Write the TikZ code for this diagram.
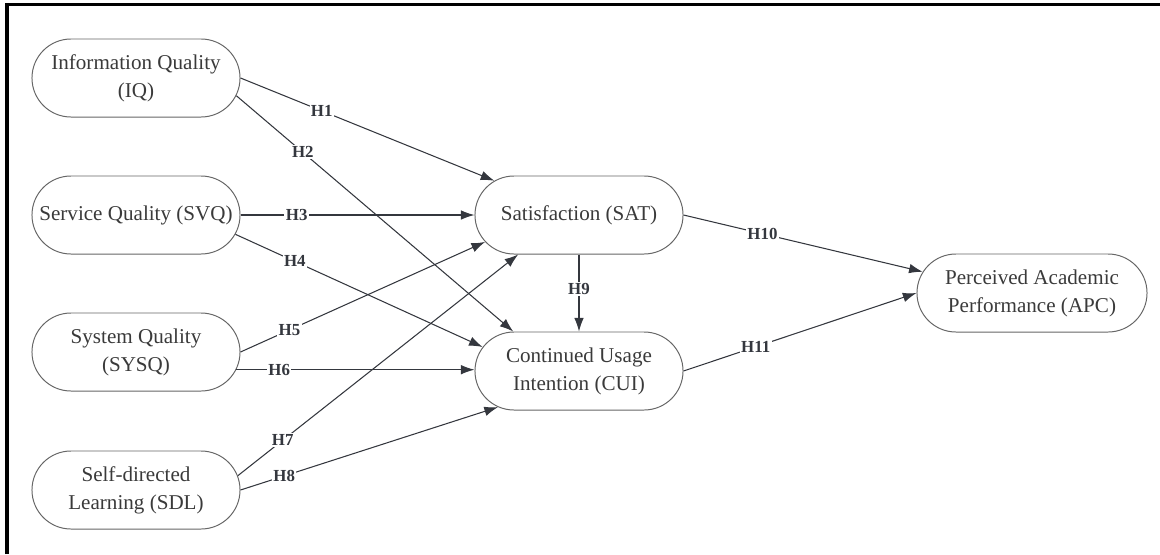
\documentclass[tikz,border=0pt]{standalone}
\usepackage{fontspec}
\setmainfont{Liberation Serif}
\usetikzlibrary{arrows.meta,shapes.misc,positioning}
\definecolor{boxline}{HTML}{666666}
\definecolor{edgeline}{HTML}{34373E}
\definecolor{txt}{HTML}{3A3A3A}

\tikzset{
  construct/.style={rounded rectangle, draw=boxline, line width=0.7pt, text=txt,
    minimum width=5.2cm, minimum height=1.95cm, inner sep=0pt, align=center,
    font=\fontsize{15}{20}\selectfont},
  hyp/.style={-{Latex[length=3.4mm,width=2.4mm]}, draw=edgeline, line width=0.75pt},
  hlabel/.style={fill=white, inner sep=1pt, text=edgeline,
    font=\fontsize{12}{14}\selectfont\bfseries}
}

\begin{document}
\begin{tikzpicture}[x=0.025cm,y=-0.025cm]
    \useasboundingbox (0,0) rectangle (1160,554);
    \draw[line width=2.2pt] (7,554) -- (7,4.5) -- (1160,4.5);

    % exogenous constructs
    \node[construct] (IQ) at (136,78) {Information Quality\\(IQ)};
    \node[construct] (SVQ) at (136,215) {Service Quality (SVQ)};
    \node[construct] (SYSQ) at (136,352) {System Quality\\(SYSQ)};
    \node[construct] (SDL) at (136,490) {Self-directed\\Learning (SDL)};

    % mediators and outcome
    \node[construct] (SAT) at (579,215) {Satisfaction (SAT)};
    \node[construct] (CUI) at (579,371) {Continued Usage\\Intention (CUI)};
    \node[construct, minimum width=5.75cm] (APC) at (1032,293) {Perceived Academic\\Performance (APC)};

    % hypotheses
    \draw[hyp] (IQ.east) -- node[hlabel,pos=0.32] {H1} (SAT);
    \draw[hyp] (IQ.-10) -- node[hlabel,pos=0.24] {H2} (CUI.149);
    \draw[hyp] (SVQ.east) -- node[hlabel,pos=0.24] {H3} (SAT.west);
    \draw[hyp] (SVQ.-11) -- node[hlabel,pos=0.24] {H4} (CUI.166);
    \draw[hyp] (SYSQ.east) -- node[hlabel,pos=0.2] {H5} (SAT.196);
    \draw[hyp] (SYSQ.-10) -- node[hlabel,pos=0.18] {H6} (SYSQ.-10 -| CUI.west);
    \draw[hyp] (SDL.8) -- node[hlabel,pos=0.16] {H7} (SAT.213);
    \draw[hyp] (SDL.east) -- node[hlabel,pos=0.17] {H8} (CUI.204);
    \draw[hyp] (SAT.south) -- node[hlabel,pos=0.45] {H9} (CUI.north);
    \draw[hyp] (SAT.east) -- node[hlabel,pos=0.33] {H10} (APC.169);
    \draw[hyp] (CUI.east) -- node[hlabel,pos=0.31] {H11} (APC.west);
\end{tikzpicture}
\end{document}
